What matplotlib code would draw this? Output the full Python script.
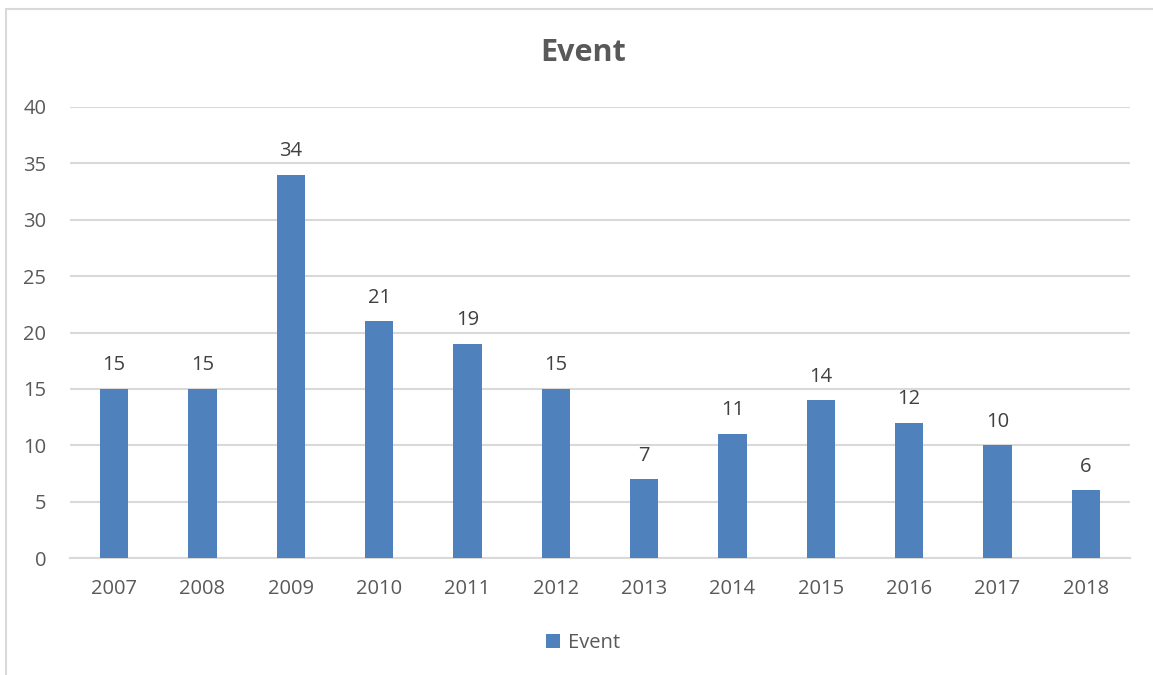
import matplotlib.pyplot as plt
from matplotlib.patches import Rectangle

# Yearly event counts
years = ['2007', '2008', '2009', '2010', '2011', '2012',
         '2013', '2014', '2015', '2016', '2017', '2018']
events = [15, 15, 34, 21, 19, 15, 7, 11, 14, 12, 10, 6]

bar_color = '#4F81BD'
text_color = '#595959'
grid_color = '#D9D9D9'

plt.rcParams['font.family'] = ['Open Sans', 'DejaVu Sans']

fig = plt.figure(figsize=(11.53, 6.75), dpi=100)
ax = fig.add_axes([0.0607, 0.1733, 0.9193, 0.6682])

# chart border (only top/left edges fall inside the image)
fig.patches.append(Rectangle((6 / 1153, -0.1), 1.2, 1.1 - 9 / 675,
                             transform=fig.transFigure, fill=False,
                             edgecolor=grid_color, linewidth=1.5))

x = range(len(years))
bars = ax.bar(x, events, width=0.32, color=bar_color, label='Event', zorder=3)

for xi, v in zip(x, events):
    ax.text(xi, v + 1.2, str(v), ha='center', va='bottom',
            fontsize=14.5, color='#404040')

ax.set_xlim(-0.5, len(years) - 0.5)
ax.set_ylim(0, 40)
ax.set_yticks(range(0, 41, 5))
ax.set_xticks(list(x))
ax.set_xticklabels(years)
ax.yaxis.grid(True, color=grid_color, linewidth=1.5, zorder=0)
ax.tick_params(axis='both', length=0, labelsize=14.5, colors=text_color)
ax.tick_params(axis='x', pad=15)
ax.tick_params(axis='y', pad=17)
for s in ['top', 'right', 'left']:
    ax.spines[s].set_visible(False)
ax.spines['bottom'].set_color(grid_color)
ax.spines['bottom'].set_linewidth(1.5)

fig.text(0.506, 0.922, 'Event', ha='center', va='center',
         fontsize=22, fontweight='bold', color=text_color)

fig.legend(handles=[bars], labels=['Event'], loc='center',
           bbox_to_anchor=(0.506, 0.048), frameon=False, fontsize=14.5,
           labelcolor=text_color, handlelength=0.7, handleheight=0.7,
           handletextpad=0.4)

fig.savefig('out.png', dpi=100)
